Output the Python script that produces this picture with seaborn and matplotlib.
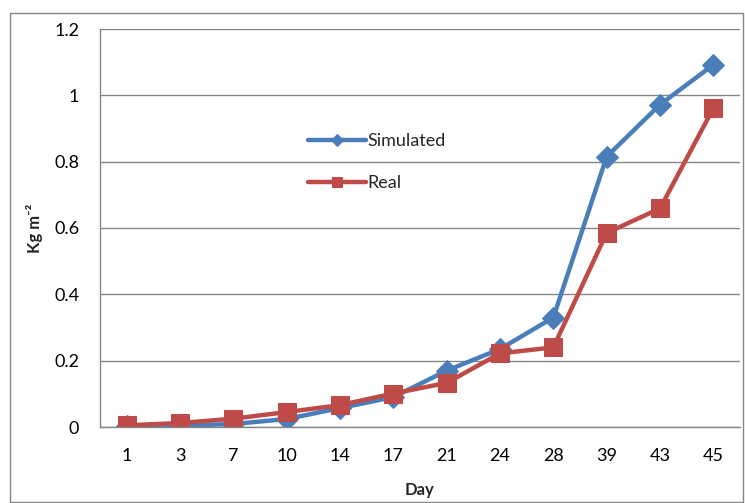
import matplotlib
matplotlib.use("Agg")
import matplotlib.pyplot as plt
import seaborn as sns
import pandas as pd
import numpy as np
from matplotlib.patches import Rectangle

days = ["1", "3", "7", "10", "14", "17", "21", "24", "28", "39", "43", "45"]
simulated = [0.002, 0.004, 0.009, 0.024, 0.057, 0.090, 0.170, 0.235, 0.330, 0.815, 0.972, 1.092]
real = [0.005, 0.012, 0.025, 0.045, 0.066, 0.101, 0.133, 0.222, 0.240, 0.585, 0.659, 0.961]

sns.set_theme(style="white")
plt.rcParams["font.family"] = ["Lato", "DejaVu Sans"]

pos = np.arange(len(days))
df_sim = pd.DataFrame({"pos": pos, "val": simulated})
df_real = pd.DataFrame({"pos": pos, "val": real})

fig = plt.figure(figsize=(7.45, 5.03), dpi=100)
ax = fig.add_axes([100/745, 1-427/503, 640/745, 398/503])

blue = "#4A7EBB"
red = "#BE4B48"
sns.lineplot(data=df_sim, x="pos", y="val", ax=ax, color=blue, linewidth=3.2,
             marker="D", markersize=11, markeredgecolor=blue, label="Simulated")
sns.lineplot(data=df_real, x="pos", y="val", ax=ax, color=red, linewidth=3.2,
             marker="s", markersize=13, markeredgecolor=red, label="Real")

ax.set_xlim(-0.5, len(days) - 0.5)
ax.set_ylim(0, 1.2)
ax.set_yticks(np.arange(0, 1.21, 0.2))
ax.set_yticklabels(["0", "0.2", "0.4", "0.6", "0.8", "1", "1.2"])
ax.set_xticks(pos)
ax.set_xticklabels(days)
ax.set_xticks(np.arange(-0.5, len(days)), minor=True)
ax.tick_params(axis="x", which="major", length=0, pad=15, labelsize=13, colors="black")
ax.tick_params(axis="x", which="minor", length=4, width=1, color="#868686", direction="out")
ax.tick_params(axis="y", length=4, width=1, color="#868686", direction="out", pad=11,
               labelsize=13, colors="black")
ax.yaxis.grid(True, color="#868686", linewidth=1)
ax.set_axisbelow(True)
for s in ["top", "right"]:
    ax.spines[s].set_visible(False)
for s in ["left", "bottom"]:
    ax.spines[s].set_color("#868686")
    ax.spines[s].set_linewidth(1)

ax.set_xlabel("Day", fontsize=12, fontweight="bold", labelpad=13)
ax.set_ylabel("Kg m\u207b\u00b2", fontsize=12, fontweight="bold", labelpad=8)

leg = ax.legend(loc="center left", bbox_to_anchor=(0.30, 0.665), frameon=False,
                fontsize=13, handlelength=3.2, handletextpad=0.1, labelspacing=1.45,
                markerscale=0.6)

fig.patches.append(Rectangle((10/745, 0.002), 733/745, 1-13/503-0.002,
                             transform=fig.transFigure, fill=False,
                             edgecolor="#868686", linewidth=1))

fig.savefig("out.png", dpi=100)
